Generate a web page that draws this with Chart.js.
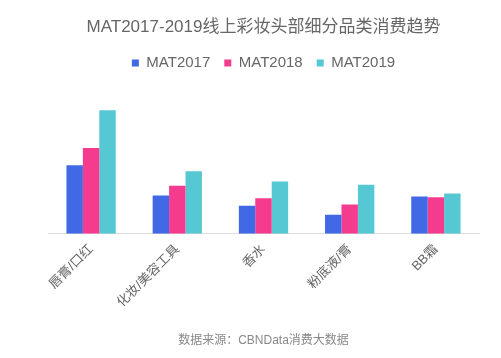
<!DOCTYPE html>
<html><head><meta charset="utf-8">
<script src="https://cdn.jsdelivr.net/npm/chart.js@4/dist/chart.umd.min.js"></script>
<style>html,body{margin:0;padding:0;background:#fff;}#wrap{width:501px;height:358px;}</style>
</head><body><div id="wrap"><canvas id="c" width="501" height="358"></canvas></div>
<script>
const categories = ["唇膏/口红", "化妆/美容工具", "香水", "粉底液/膏", "BB霜"];
const mat2017 = [68.3, 38.3, 28.0, 19.0, 37.3];
const mat2018 = [85.6, 48.0, 35.6, 29.3, 36.6];
const mat2019 = [123.3, 62.3, 52.3, 49.0, 40.3];
const seriesNames = ["MAT2017", "MAT2018", "MAT2019"];
const colors = ["#4169E6", "#F43B8E", "#55C8D4"];
const FONT = '"Liberation Sans", "Noto Sans CJK SC", sans-serif';

new Chart(document.getElementById('c'), {
  type: 'bar',
  data: {
    labels: categories,
    datasets: [mat2017, mat2018, mat2019].map((d, i) => ({
      label: seriesNames[i], data: d, backgroundColor: colors[i],
      borderWidth: 0, barPercentage: 1.0, categoryPercentage: 0.572
    }))
  },
  options: {
    responsive: false, animation: false,
    layout: { padding: { left: 48, right: 22, top: 0, bottom: 0 } },
    plugins: {
      title: { display: true, text: 'MAT2017-2019线上彩妆头部细分品类消费趋势',
        color: '#666', font: { family: FONT, size: 17, weight: 'normal' }, padding: { top: 17, bottom: 4 } },
      subtitle: { display: true, position: 'bottom', text: '数据来源：CBNData消费大数据',
        color: '#888', font: { family: FONT, size: 12, weight: 'normal' }, padding: { top: 15, bottom: 10 } },
      legend: { position: 'top', labels: { color: '#666', boxWidth: 7, boxHeight: 7, padding: 14,
        font: { family: FONT, size: 15 } } },
      tooltip: { enabled: false }
    },
    scales: {
      x: { grid: { display: false, drawTicks: false }, border: { color: '#ddd' },
        ticks: { color: '#666', minRotation: 45, maxRotation: 45, padding: 8, font: { family: FONT, size: 13 } } },
      y: { display: false, min: 0, max: 153 }
    }
  }
});
</script></body></html>
